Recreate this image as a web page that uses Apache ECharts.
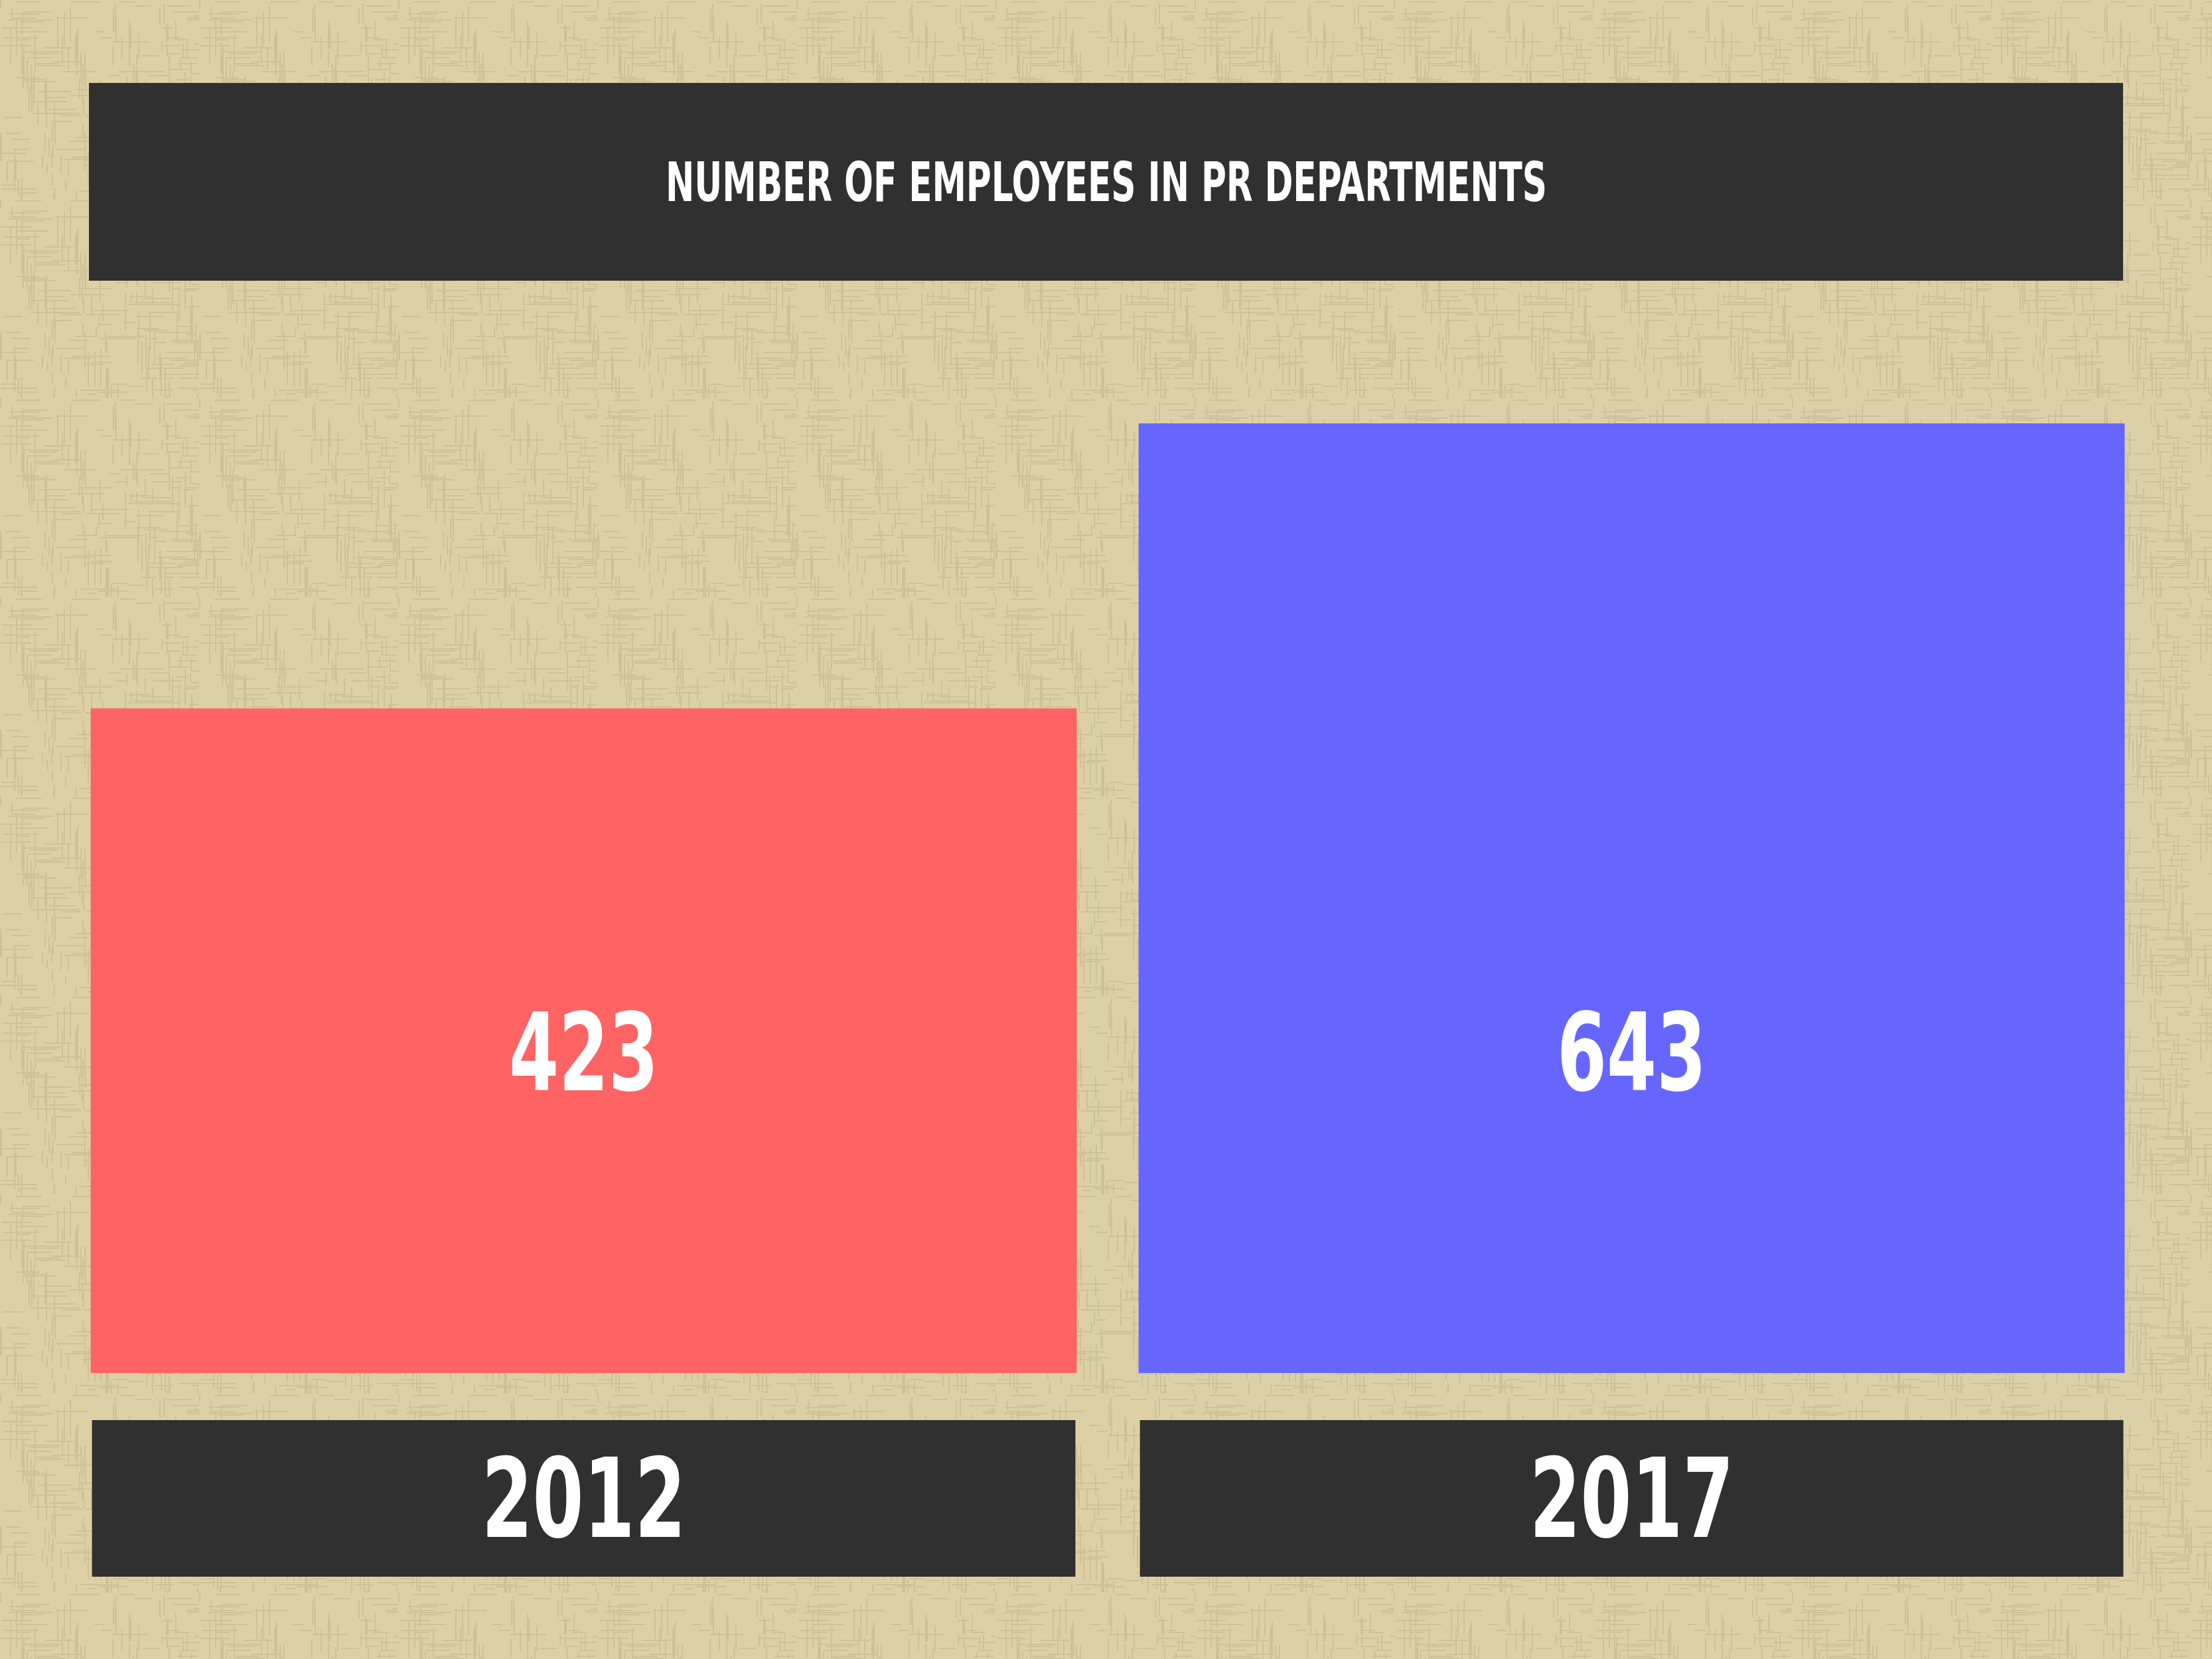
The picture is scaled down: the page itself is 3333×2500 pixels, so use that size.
<!DOCTYPE html>
<html>
<head>
<meta charset="utf-8">
<title>Number of employees in PR departments</title>
<script src="https://cdn.jsdelivr.net/npm/echarts@6/dist/echarts.min.js"></script>
<style>
  html, body { margin: 0; padding: 0; }
  #chart { width: 3333px; height: 2500px; }
</style>
</head>
<body>
<div id="chart"></div>
<script>
const titleText = 'NUMBER OF EMPLOYEES IN PR DEPARTMENTS'
const years = ['2012', '2017']
const employees = [423, 643]
const barColors = ['#FF6363', '#6666FF']
const axisMin = -90
const axisMax = 643

// linen-like texture for the page background
function makeTexture() {
  const size = 300
  const c = document.createElement('canvas')
  c.width = size
  c.height = size
  const ctx = c.getContext('2d')
  ctx.fillStyle = '#DDD0A6'
  ctx.fillRect(0, 0, size, size)
  ctx.fillStyle = '#CEC197'
  for (let i = 0; i < 140; i++) {
    const x = (i * 131 + (i * i) % 17) % size
    const y = (i * 223 + (i * i * 7) % 31) % size
    const len = 14 + (i * 37) % 45
    ctx.fillRect(x, y, 2, len) // vertical thread
    ctx.fillRect((x * 7 + 45) % size, (y * 3 + 80) % size, len, 2) // horizontal thread
  }
  return c.toDataURL()
}
document.body.style.background = 'url(' + makeTexture() + ') repeat'

const font = "'DejaVu Sans Condensed', 'DejaVu Sans', sans-serif"
const myChart = echarts.init(document.getElementById('chart'))

// bars start at the bottom of the axis, value labels sit at a fixed height above it,
// the year sits in a dark box under each bar
function renderBar(params, api) {
  const cat = api.value(0)
  const val = api.value(1)
  const top = api.coord([cat, val])
  const base = api.coord([cat, axisMin])
  const w = api.size([1, 0])[0] * 0.941
  return {
    type: 'group',
    children: [
      {
        type: 'rect',
        shape: { x: top[0] - w / 2, y: top[1], width: w, height: base[1] - top[1] },
        style: { fill: barColors[params.dataIndex] }
      },
      {
        type: 'text',
        x: top[0],
        y: base[1] - 468,
        scaleX: 0.74,
        style: {
          text: String(val),
          fill: '#ffffff',
          font: 'bold 162px ' + font,
          align: 'center',
          verticalAlign: 'middle'
        }
      },
      {
        type: 'rect',
        shape: { x: top[0] - w / 2 + 2, y: base[1] + 71, width: w - 4, height: 236 },
        style: { fill: '#303030' }
      },
      {
        type: 'text',
        x: top[0],
        y: base[1] + 204,
        scaleX: 0.74,
        style: {
          text: years[cat],
          fill: '#ffffff',
          font: 'bold 166px ' + font,
          align: 'center',
          verticalAlign: 'middle'
        }
      }
    ]
  }
}

let option = {
  backgroundColor: 'transparent',
  animation: false,
  graphic: [
    {
      type: 'rect',
      z: -1,
      shape: { x: 134, y: 125, width: 3065, height: 298 },
      style: { fill: '#303030' }
    },
    {
      type: 'text',
      x: 1667,
      y: 282,
      scaleX: 0.7,
      style: {
        text: titleText,
        fill: '#ffffff',
        font: 'bold 82px ' + font,
        align: 'center',
        verticalAlign: 'middle'
      }
    }
  ],
  grid: {
    left: 90,
    right: 85,
    top: 638,
    bottom: 431,
    containLabel: false,
    outerBoundsMode: 'none'
  },
  xAxis: {
    type: 'category',
    data: years,
    axisLine: { show: false },
    axisTick: { show: false },
    axisLabel: { show: false }
  },
  yAxis: {
    type: 'value',
    min: axisMin,
    max: axisMax,
    show: false,
    splitLine: { show: false }
  },
  series: [
    {
      name: 'Employees',
      type: 'custom',
      renderItem: renderBar,
      encode: { x: 0, y: 1 },
      data: employees.map((v, i) => [i, v])
    }
  ]
}
option && myChart.setOption(option)
</script>
</body>
</html>
